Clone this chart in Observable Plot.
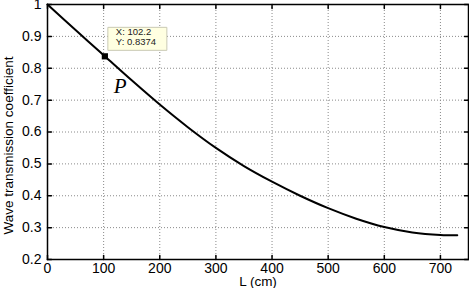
<!DOCTYPE html>
<html>
<head>
<meta charset="utf-8">
<script src="https://cdn.jsdelivr.net/npm/d3@7"></script>
<script src="https://cdn.jsdelivr.net/npm/@observablehq/plot@0.6"></script>
<style>
  html, body { margin: 0; padding: 0; background: #fff; }
  #chart svg { display: block; }
</style>
</head>
<body>
<div id="chart"></div>
<script>
// Data
const lengthCm = [0, 50, 102.2, 150, 200, 250, 300, 350, 400, 450, 500, 550, 600, 650, 700, 730];
const transmission = [1, 0.92, 0.8374, 0.762, 0.686, 0.615, 0.550, 0.493, 0.444, 0.400, 0.361, 0.328, 0.302, 0.285, 0.277, 0.276];
const xTicks = [0, 100, 200, 300, 400, 500, 600, 700];
const yTicks = [0.2, 0.3, 0.4, 0.5, 0.6, 0.7, 0.8, 0.9, 1];
const markedPoint = [{x: 102.2, y: 0.8374}];
const tipText = ["X: 102.2\nY: 0.8374"];
const pointLabel = ["P"];
const xLabel = ["L (cm)"];
const yLabel = ["Wave transmission coefficient"];

const curve = lengthCm.map((x, i) => ({x, y: transmission[i]}));

const tickShape = {draw(context, l) { context.moveTo(0, 0); context.lineTo(0, -l); }};
const tipBox = {draw(context) { context.rect(3, -29, 59, 23); }};

const font = "'Liberation Sans', Arial, Helvetica, sans-serif";

const chart = Plot.plot({
  width: 469,
  height: 288,
  marginLeft: 47,
  marginRight: 1,
  marginTop: 4,
  marginBottom: 29,
  style: {fontFamily: font, fontSize: "14px", color: "#000", background: "#fff"},
  x: {domain: [0, 750]},
  y: {domain: [0.2, 1]},
  marks: [
    Plot.gridX(xTicks, {stroke: "#8a8a8a", strokeOpacity: 1, strokeDasharray: "1,2"}),
    Plot.gridY(yTicks, {stroke: "#8a8a8a", strokeOpacity: 1, strokeDasharray: "1,2"}),
    Plot.axisX(xTicks, {tickSize: 0, tickPadding: 4, label: null, fontSize: 14, tickFormat: d => String(d)}),
    Plot.axisY(yTicks, {tickSize: 0, tickPadding: 6, label: null, fontSize: 14, tickFormat: d => String(+d.toFixed(1))}),
    // inward ticks on all sides
    Plot.vector(xTicks, {x: d => d, frameAnchor: "bottom", length: 4, rotate: 0, anchor: "start", shape: tickShape, stroke: "#000"}),
    Plot.vector(xTicks, {x: d => d, frameAnchor: "top", length: 4, rotate: 180, anchor: "start", shape: tickShape, stroke: "#000"}),
    Plot.vector(yTicks, {y: d => d, frameAnchor: "left", length: 4, rotate: 90, anchor: "start", shape: tickShape, stroke: "#000"}),
    Plot.vector(yTicks, {y: d => d, frameAnchor: "right", length: 4, rotate: -90, anchor: "start", shape: tickShape, stroke: "#000"}),
    Plot.line(curve, {x: "x", y: "y", stroke: "#000", strokeWidth: 2, curve: "catmull-rom"}),
    Plot.frame({stroke: "#000", strokeWidth: 1.5}),
    // data tip
    Plot.dot(markedPoint, {x: "x", y: "y", symbol: tipBox, r: 5, fill: "#ffffe1", stroke: "#c9c9b4", strokeWidth: 1}),
    Plot.text(tipText, {x: () => markedPoint[0].x, y: () => markedPoint[0].y, dx: 11, dy: -20, textAnchor: "start", lineAnchor: "middle", lineHeight: 1.05, fontSize: 9.5, fill: "#222"}),
    Plot.dot(markedPoint, {x: "x", y: "y", symbol: "square", r: 3.5, fill: "#000", stroke: "none"}),
    Plot.text(pointLabel, {x: () => markedPoint[0].x, y: () => markedPoint[0].y, dx: 9, dy: 30, textAnchor: "start", lineAnchor: "middle", fontSize: 21, fontStyle: "italic", fontFamily: "'Liberation Serif', 'Times New Roman', serif", fill: "#000"}),
    // axis labels
    Plot.text(xLabel, {frameAnchor: "bottom", dy: 22, textAnchor: "middle", lineAnchor: "middle", fontSize: 13.5, fill: "#000"}),
    Plot.text(yLabel, {frameAnchor: "left", rotate: -90, dx: -39, dy: 13.5, textAnchor: "middle", lineAnchor: "middle", fontSize: 13.5, fill: "#000"})
  ]
});
document.getElementById("chart").append(chart);
</script>
</body>
</html>
